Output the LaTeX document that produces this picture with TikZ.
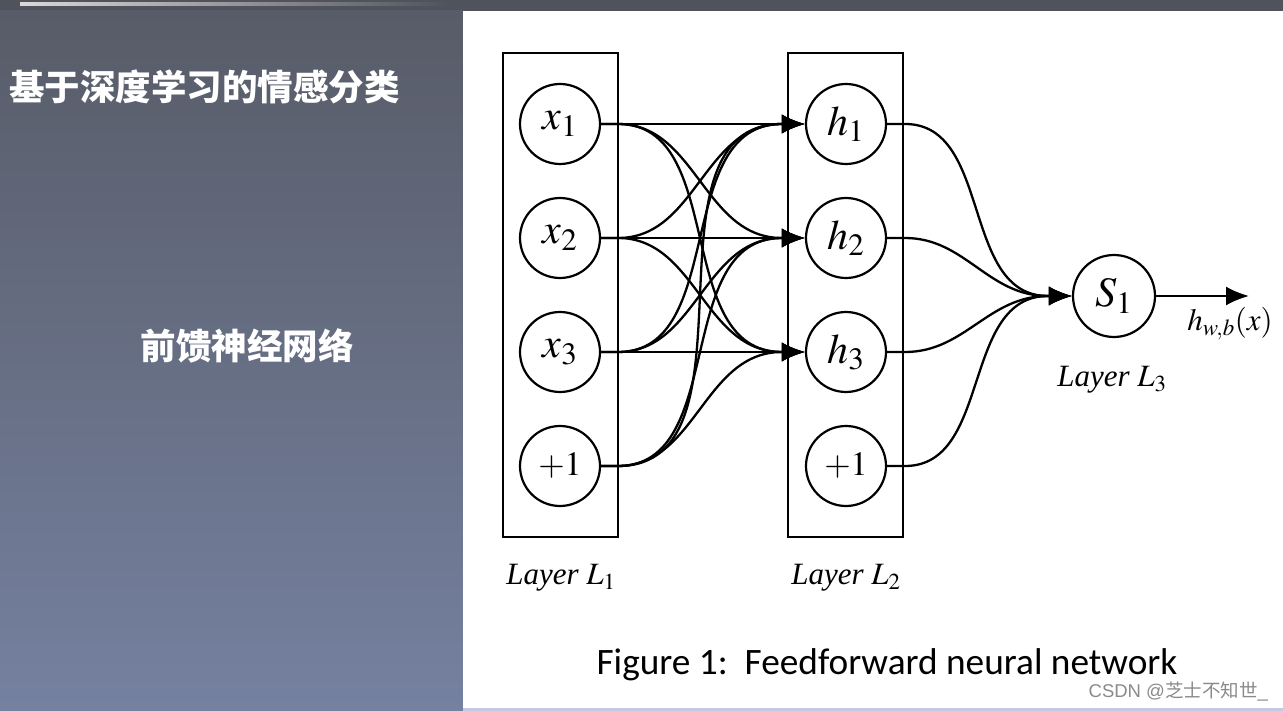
\documentclass[tikz,border=0pt]{standalone}
\usepackage{mathptmx}
\usepackage{fontspec}
\setmainfont{Liberation Serif}
\newfontfamily\cjk{Noto Sans CJK SC}
\newfontfamily\capfont{Carlito}
\newfontfamily\wmfont{Liberation Sans}
\usetikzlibrary{arrows.meta,calc}
\definecolor{topbar}{HTML}{50535C}
\definecolor{paneltop}{HTML}{585C68}
\definecolor{panelbot}{HTML}{7581A0}
\definecolor{wmgray}{HTML}{8A8A8A}
\definecolor{edgeline}{HTML}{C5C9E0}
\tikzset{
  neuron/.style={circle,draw=black,line width=2.2pt,minimum size=80pt,inner sep=0pt,font=\fontsize{42}{48}\selectfont},
  biasfont/.style={font=\fontsize{34}{40}\selectfont},
  layerbox/.style={rectangle,draw=black,line width=2.4pt,minimum width=115pt,minimum height=484pt,inner sep=0pt},
  conn/.style={line width=2.3pt,-{Latex[length=23pt,width=19pt]}},
  layerlabel/.style={font=\fontsize{31}{36}\selectfont\itshape,inner sep=0pt},
}
\begin{document}
\begin{tikzpicture}[x=1pt,y=-1pt]
\useasboundingbox (0,0) rectangle (1283,711);
% backgrounds
\fill[topbar] (0,0) rectangle (1283,11);
\shade[top color=paneltop,bottom color=panelbot] (0,11) rectangle (463,711);
\shade[left color=black!15,right color=topbar] (20,3) rectangle (450,6);
\fill[white] (463,11) rectangle (1283,711);
\fill[edgeline] (463,708) rectangle (1283,711);
% left texts
\node[font=\cjk\bfseries\fontsize{35.5}{42}\selectfont,text=white,anchor=west,inner sep=0pt] (title) at (9,87) {基于深度学习的情感分类};
\node[font=\cjk\bfseries\fontsize{35.5}{42}\selectfont,text=white,inner sep=0pt] (sub) at (247,346) {前馈神经网络};
% layer boxes
\node[layerbox] (box1) at (560.5,295) {};
\node[layerbox] (box2) at (845.5,295) {};
% neurons
\node[neuron] (x1) at (560,124) {$x_1$};
\node[neuron] (x2) at (560,238) {$x_2$};
\node[neuron] (x3) at (560,352) {$x_3$};
\node[neuron,biasfont] (b1) at (560,466) {$+1$};
\node[neuron] (h1) at (846,124) {$h_1$};
\node[neuron] (h2) at (846,238) {$h_2$};
\node[neuron] (h3) at (846,352) {$h_3$};
\node[neuron,biasfont] (b2) at (846,466) {$+1$};
\node[neuron,minimum size=82pt] (s1) at (1114,296) {$S_1$};
% connections layer 1 -> layer 2
\foreach \a in {x1,x2,x3,b1}{
  \foreach \b in {h1,h2,h3}{
    \draw[conn] (\a.east) -- ++(17,0) to[out=0,in=180] ($(\b.west)+(-23,0)$) -- (\b.west);
  }
}
% connections layer 2 -> output
\foreach \a in {h1,h2,h3,b2}{
  \draw[conn] (\a.east) -- ++(18,0) to[out=0,in=180] ($(s1.west)+(-24,0)$) -- (s1.west);
}
\coordinate (outend) at (1249,296);
\draw[conn] (s1.east) -- (outend);
\node[font=\fontsize{31}{36}\selectfont,inner sep=0pt] (hwb) at (1230,324) {$h_{w,b}(x)$};
% layer labels
\node[layerlabel] (lab1) at (561,578) {Layer $L_1$};
\node[layerlabel] (lab2) at (846,578) {Layer $L_2$};
\node[layerlabel] (lab3) at (1112,380) {Layer $L_3$};
% caption
\node[font=\capfont\fontsize{37.3}{44}\selectfont,inner sep=0pt] (cap) at (887,665) {Figure 1:\ \ Feedforward neural network};
\node[font=\wmfont\fontsize{18.5}{22}\selectfont,text=wmgray,anchor=east,inner sep=0pt] (wm) at (1268,692) {CSDN @{\cjk 芝士不知世}\_};
\end{tikzpicture}
\end{document}
